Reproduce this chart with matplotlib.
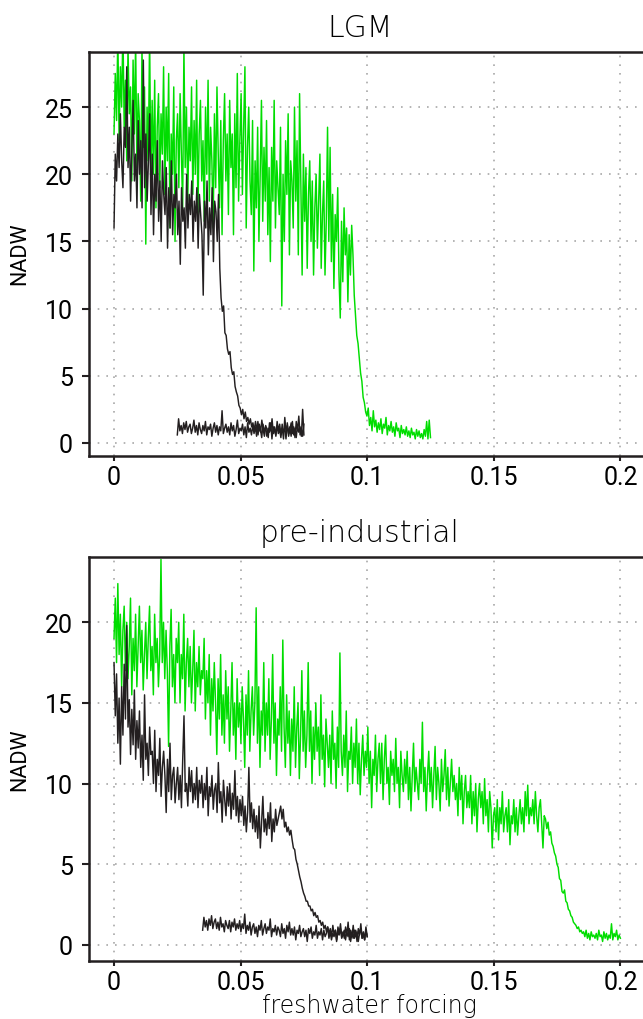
import numpy as np
import matplotlib
matplotlib.use("Agg")
import matplotlib.pyplot as plt

# NADW response to a slowly increasing (and then decreasing) freshwater forcing.
# Each row of a series covers 0.005 of forcing (10 samples per row).

# ---- LGM ----
lgm_green_range = (0.0, 0.125)
lgm_green = [
    [23.0, 27.5, 24.0, 30.5, 22.5, 28.0, 25.0, 31.0, 23.5, 27.0],
    [21.0, 29.5, 24.5, 26.5, 19.5, 28.5, 23.0, 30.0, 20.5, 26.0],
    [24.0, 18.0, 29.5, 22.0, 26.5, 14.8, 25.0, 21.0, 30.5, 19.5],
    [25.5, 20.0, 27.0, 17.5, 23.5, 26.0, 19.0, 24.5, 21.5, 28.0],
    [18.5, 25.0, 21.0, 27.5, 16.0, 23.0, 20.0, 26.5, 15.0, 22.5],
    [24.5, 19.0, 26.0, 21.5, 17.5, 29.5, 20.5, 25.0, 18.0, 23.5],
    [21.0, 26.5, 18.5, 24.0, 20.0, 27.0, 17.0, 23.0, 25.5, 19.5],
    [22.5, 16.5, 25.0, 20.0, 27.0, 18.0, 23.5, 21.0, 16.0, 24.5],
    [19.0, 26.5, 21.5, 17.5, 24.0, 15.5, 22.5, 26.0, 19.5, 23.0],
    [17.0, 25.5, 20.5, 23.0, 15.5, 24.5, 19.0, 27.5, 18.0, 22.5],
    [26.0, 18.5, 23.5, 28.0, 16.0, 22.0, 25.0, 19.5, 17.0, 24.0],
    [12.8, 21.0, 17.5, 23.5, 15.0, 20.0, 25.5, 16.5, 22.0, 18.0],
    [24.0, 15.5, 20.5, 13.5, 22.0, 18.0, 25.5, 16.0, 21.0, 19.0],
    [17.0, 23.5, 10.2, 20.0, 15.0, 22.5, 18.5, 24.5, 14.0, 21.0],
    [19.5, 16.0, 25.0, 18.0, 22.5, 14.0, 26.0, 19.0, 12.5, 21.5],
    [16.5, 20.5, 13.0, 18.5, 21.0, 15.0, 19.5, 12.5, 17.5, 20.0],
    [14.5, 18.0, 21.5, 13.0, 17.0, 19.5, 12.5, 16.5, 23.5, 15.0],
    [22.0, 13.5, 18.5, 11.5, 17.0, 15.0, 19.0, 12.5, 9.3, 16.5],
    [12.0, 17.5, 14.0, 16.0, 10.5, 15.5, 12.5, 16.2, 14.0, 11.0],
    [9.5, 8.0, 7.4, 6.3, 5.2, 4.6, 3.4, 3.0, 2.3, 2.0],
    [2.6, 1.3, 1.9, 0.9, 2.4, 1.2, 1.7, 0.8, 1.5, 1.0],
    [1.8, 0.7, 1.4, 1.1, 1.9, 0.6, 1.3, 0.9, 1.6, 0.8],
    [1.2, 0.5, 1.5, 0.9, 1.1, 0.4, 1.3, 0.7, 1.0, 0.6],
    [1.2, 0.5, 0.9, 0.4, 1.1, 0.6, 0.8, 0.3, 1.0, 0.5],
    [0.9, 0.4, 0.7, 0.3, 1.0, 0.5, 1.6, 0.3, 1.7, 0.4],
]

lgm_black_range = (0.0, 0.075)
lgm_black = [
    [16.0, 21.5, 19.5, 23.0, 20.5, 24.5, 21.0, 19.0, 23.5, 22.0],
    [28.0, 20.5, 23.5, 18.0, 22.0, 25.5, 19.5, 21.5, 17.5, 24.0],
    [20.0, 22.5, 17.5, 28.5, 19.0, 23.0, 18.0, 21.0, 24.5, 17.0],
    [21.5, 15.5, 20.0, 18.0, 22.5, 16.5, 19.5, 15.0, 21.0, 18.5],
    [17.0, 20.5, 14.5, 19.0, 16.0, 21.0, 15.5, 18.5, 17.5, 20.0],
    [15.5, 18.0, 13.3, 19.0, 16.5, 17.5, 14.5, 20.0, 16.0, 18.5],
    [17.0, 19.5, 15.0, 18.0, 16.5, 19.0, 14.5, 18.5, 17.0, 15.5],
    [11.0, 18.0, 16.0, 19.5, 14.0, 17.5, 15.5, 19.0, 13.5, 18.0],
    [17.2, 15.0, 18.5, 13.0, 10.8, 9.8, 10.2, 8.2, 8.0, 7.0],
    [6.6, 6.8, 5.6, 5.1, 5.3, 4.2, 3.8, 3.5, 2.8, 2.6],
    [2.1, 2.5, 1.8, 2.3, 1.6, 1.9, 1.4, 1.8, 1.2, 1.5],
    [0.9, 1.6, 1.1, 0.6, 1.4, 0.8, 1.7, 1.0, 0.5, 1.3],
    [1.0, 0.4, 1.5, 0.9, 1.8, 0.7, 1.2, 0.5, 1.6, 0.9],
    [1.4, 0.6, 1.1, 0.3, 1.9, 0.8, 1.3, 0.5, 1.0, 1.5],
    [0.7, 1.2, 0.4, 1.6, 0.9, 2.0, 0.6, 1.1, 0.5, 1.4],
]

lgm_back_range = (0.025, 0.075)
lgm_back = [
    [0.6, 1.8, 0.9, 1.3, 0.7, 1.5, 1.0, 1.6, 0.8, 1.2],
    [1.4, 0.7, 1.1, 1.7, 0.8, 1.3, 0.6, 1.5, 1.0, 0.7],
    [1.3, 0.9, 1.6, 0.6, 1.2, 1.0, 1.4, 0.5, 1.1, 1.5],
    [0.8, 1.3, 0.6, 1.2, 0.9, 2.4, 0.7, 1.1, 1.4, 0.8],
    [1.2, 0.6, 1.5, 0.9, 1.3, 0.5, 1.0, 1.7, 0.7, 1.1],
    [0.9, 1.4, 0.6, 1.2, 0.4, 1.5, 0.8, 1.1, 0.6, 1.3],
    [0.7, 1.2, 0.5, 1.6, 0.9, 1.0, 0.4, 1.4, 0.8, 1.2],
    [0.5, 1.1, 0.8, 1.5, 0.3, 1.2, 0.9, 0.6, 1.3, 0.7],
    [1.0, 0.4, 1.4, 0.8, 1.1, 0.3, 1.5, 0.7, 1.2, 0.5],
    [1.6, 0.6, 1.1, 0.4, 1.3, 0.8, 1.2, 0.5, 2.5, 0.6],
]

# ---- pre-industrial ----
pi_green_range = (0.0, 0.2)
pi_green = [
    [19.0, 21.5, 17.5, 22.4, 18.0, 20.5, 16.0, 19.5, 21.0, 17.0],
    [20.0, 16.5, 18.5, 21.5, 15.5, 19.0, 17.0, 20.5, 16.0, 18.5],
    [21.0, 17.5, 19.5, 15.8, 18.0, 20.0, 16.5, 19.0, 21.0, 17.0],
    [18.5, 15.5, 20.5, 17.5, 19.0, 16.0, 18.0, 23.9, 17.5, 20.0],
    [16.5, 19.5, 17.0, 12.3, 18.5, 20.8, 16.0, 18.0, 15.0, 19.0],
    [17.5, 20.0, 15.0, 18.0, 16.5, 20.5, 14.5, 17.5, 19.0, 16.0],
    [18.5, 15.0, 17.0, 19.5, 14.5, 17.5, 16.0, 18.5, 15.5, 17.0],
    [16.5, 19.0, 14.0, 17.0, 15.0, 18.0, 13.0, 16.5, 14.5, 17.5],
    [15.0, 11.8, 16.5, 14.0, 18.0, 13.0, 15.5, 12.5, 17.0, 14.0],
    [16.0, 12.0, 14.5, 17.5, 13.0, 15.0, 11.5, 16.5, 13.5, 15.0],
    [12.5, 16.0, 14.0, 11.0, 15.5, 13.0, 17.0, 12.0, 14.5, 16.0],
    [13.0, 15.0, 20.9, 12.5, 16.0, 11.0, 14.5, 13.0, 17.5, 12.0],
    [15.0, 13.0, 16.5, 11.5, 14.0, 18.0, 12.5, 15.0, 10.5, 14.0],
    [13.0, 16.0, 12.0, 18.9, 13.5, 11.0, 15.5, 12.5, 14.5, 10.5],
    [14.0, 12.0, 16.0, 11.0, 13.5, 15.0, 10.3, 13.0, 17.0, 12.0],
    [14.5, 11.0, 13.0, 17.5, 12.0, 14.5, 10.0, 13.5, 11.5, 15.0],
    [12.0, 13.5, 10.5, 15.5, 11.5, 13.0, 9.8, 14.0, 12.5, 11.0],
    [13.0, 10.0, 14.5, 11.5, 12.5, 9.7, 13.5, 11.0, 18.1, 12.0],
    [10.5, 13.0, 11.0, 14.5, 9.5, 12.0, 11.5, 13.5, 10.0, 12.5],
    [11.0, 14.0, 10.0, 12.5, 9.3, 11.5, 13.0, 10.5, 12.0, 11.0],
    [13.5, 10.0, 12.0, 8.5, 11.5, 10.5, 13.0, 9.5, 11.5, 12.5],
    [10.0, 12.5, 9.0, 11.5, 13.0, 10.0, 11.0, 8.7, 12.0, 10.5],
    [11.5, 9.5, 12.8, 10.0, 11.0, 8.5, 12.0, 10.5, 9.5, 11.5],
    [10.0, 12.0, 9.0, 11.0, 8.3, 10.5, 12.5, 9.5, 11.0, 10.0],
    [9.0, 11.5, 10.0, 13.8, 9.5, 11.0, 8.3, 10.5, 12.0, 9.5],
    [11.0, 8.5, 10.5, 12.3, 9.0, 11.0, 10.0, 8.3, 11.5, 9.5],
    [10.5, 12.1, 9.0, 11.0, 8.6, 10.0, 11.5, 9.5, 10.5, 9.0],
    [10.0, 8.0, 11.0, 9.0, 10.5, 7.5, 9.5, 10.5, 8.5, 9.5],
    [8.5, 10.5, 7.5, 9.5, 8.0, 10.0, 7.0, 9.0, 10.0, 8.5],
    [9.5, 7.5, 10.3, 8.0, 9.0, 7.0, 9.5, 8.5, 6.0, 8.0],
    [8.5, 7.0, 9.0, 6.5, 8.5, 7.5, 9.5, 7.0, 8.0, 8.5],
    [7.0, 9.0, 6.2, 8.0, 7.5, 9.0, 7.0, 8.5, 6.8, 8.0],
    [9.0, 7.5, 8.5, 7.0, 9.5, 8.0, 9.9, 7.5, 8.5, 8.0],
    [9.0, 7.5, 9.5, 8.0, 7.0, 8.5, 9.0, 7.5, 6.0, 8.0],
    [7.8, 7.2, 7.6, 6.8, 7.0, 6.3, 6.1, 5.7, 5.5, 5.0],
    [4.8, 4.1, 4.0, 3.3, 3.2, 3.4, 2.7, 2.6, 2.2, 2.1],
    [1.8, 1.7, 1.4, 1.3, 1.2, 1.0, 1.1, 0.8, 0.9, 0.7],
    [0.8, 0.5, 0.9, 0.4, 0.7, 0.3, 0.8, 0.5, 0.6, 0.4],
    [0.7, 0.3, 0.9, 0.5, 0.6, 0.2, 0.8, 0.4, 0.7, 0.3],
    [0.6, 0.4, 1.3, 0.3, 0.7, 0.5, 0.9, 0.3, 0.6, 0.4],
]

pi_black_range = (0.0, 0.1)
pi_black = [
    [17.5, 14.2, 16.8, 12.5, 15.3, 11.2, 16.0, 13.0, 17.4, 14.0],
    [19.8, 13.5, 15.2, 11.8, 14.6, 12.4, 15.8, 11.5, 13.9, 12.2],
    [14.5, 11.0, 13.0, 10.2, 15.5, 11.5, 12.5, 10.5, 13.5, 11.8],
    [12.0, 10.0, 13.3, 9.5, 11.5, 10.5, 12.8, 9.2, 11.0, 12.0],
    [10.5, 8.2, 11.5, 9.5, 12.5, 9.0, 10.5, 11.0, 8.8, 10.0],
    [11.0, 9.0, 10.5, 8.5, 11.5, 14.2, 9.5, 10.0, 8.6, 11.0],
    [9.5, 10.8, 8.8, 10.0, 9.0, 11.0, 8.5, 10.2, 9.4, 10.5],
    [8.5, 10.0, 9.0, 11.0, 8.0, 9.8, 9.2, 10.5, 8.4, 9.6],
    [10.0, 8.2, 11.3, 8.8, 9.5, 7.6, 10.2, 9.0, 8.0, 9.8],
    [8.6, 10.0, 7.8, 9.4, 8.4, 10.8, 8.0, 9.2, 7.6, 9.0],
    [8.0, 9.2, 7.4, 8.6, 7.0, 8.2, 11.0, 7.6, 8.8, 7.2],
    [8.4, 7.0, 8.0, 6.6, 8.6, 6.0, 7.6, 9.2, 7.0, 7.8],
    [6.8, 8.2, 7.2, 8.8, 6.4, 7.8, 7.0, 8.4, 7.4, 7.8],
    [8.2, 8.6, 7.8, 8.4, 7.3, 7.6, 7.0, 7.3, 6.8, 7.1],
    [6.5, 6.0, 5.9, 5.3, 5.0, 4.6, 4.2, 3.9, 3.5, 3.2],
    [3.0, 2.7, 2.7, 2.4, 2.4, 2.1, 2.2, 1.8, 2.0, 1.7],
    [1.8, 1.4, 1.5, 1.2, 1.4, 1.0, 1.2, 0.8, 1.1, 0.7],
    [1.0, 0.5, 1.2, 0.6, 0.9, 0.3, 1.1, 0.7, 1.3, 0.5],
    [0.8, 0.4, 1.1, 0.6, 1.4, 0.3, 0.9, 0.5, 1.2, 0.4],
    [0.9, 0.2, 1.0, 0.6, 1.3, 0.4, 0.8, 0.3, 1.1, 0.5],
]

pi_back_range = (0.035, 0.1)
pi_back = [
    [0.9, 1.7, 1.1, 1.5, 0.9, 1.6, 1.2, 1.8, 1.0, 1.4],
    [1.6, 1.0, 1.4, 0.9, 1.7, 1.1, 1.3, 0.8, 1.5, 1.2],
    [1.0, 1.5, 0.8, 1.4, 1.1, 1.6, 0.9, 1.3, 1.0, 1.5],
    [0.8, 1.3, 1.0, 1.9, 0.7, 1.2, 0.9, 1.4, 0.6, 1.1],
    [1.3, 0.7, 1.1, 0.5, 1.2, 0.9, 1.5, 0.6, 1.0, 1.3],
    [0.7, 1.1, 0.9, 1.6, 0.5, 1.0, 0.8, 1.2, 0.6, 1.1],
    [0.9, 0.5, 1.3, 0.7, 1.0, 0.4, 1.2, 0.8, 1.4, 0.6],
    [1.0, 0.6, 1.1, 0.3, 0.9, 0.7, 1.2, 0.5, 0.8, 1.0],
    [0.5, 0.9, 0.2, 1.0, 0.7, 1.1, 0.4, 0.8, 0.6, 1.2],
    [0.4, 0.8, 0.6, 1.0, 0.3, 0.9, 0.5, 0.7, 1.1, 0.4],
    [0.8, 0.3, 0.7, 0.5, 0.9, 0.2, 0.8, 0.6, 1.0, 0.4],
    [0.6, 0.9, 0.3, 0.8, 0.5, 1.0, 0.2, 0.7, 0.4, 0.9],
    [0.5, 0.8, 0.2, 0.7, 1.0, 0.4, 0.6, 0.3, 0.9, 0.5],
]

x_ticks = [0, 0.05, 0.1, 0.15, 0.2]
x_ticklabels = ["0", "0.05", "0.1", "0.15", "0.2"]
lgm_yticks = [0, 5, 10, 15, 20, 25]
pi_yticks = [0, 5, 10, 15, 20]

GREEN = "#00dd00"
BLACK = "#231f20"
FRAME = "#231f20"
TEXT = "#000000"
TICK_FONT = ["Roboto", "Liberation Sans", "DejaVu Sans"]


def series(rows, xr):
    y = np.array(rows, dtype=float).ravel()
    x = np.linspace(xr[0], xr[1], len(y))
    return x, y


def style_axes(ax, yticks, ylim):
    ax.set_xlim(-0.01, 0.21)
    ax.set_ylim(*ylim)
    ax.set_xticks(x_ticks)
    ax.set_xticklabels(x_ticklabels)
    ax.set_yticks(yticks)
    ax.set_yticklabels([str(t) for t in yticks])
    ax.set_axisbelow(True)
    ax.grid(True, color="#a8a8a8", linestyle=(0, (1, 4.2)), linewidth=1.2)
    for sp in ax.spines.values():
        sp.set_linewidth(1.8)
        sp.set_color(FRAME)
    ax.tick_params(axis="x", direction="out", length=3.8, width=1.5,
                   color=FRAME, pad=2.5, labelsize=18)
    ax.tick_params(axis="y", direction="out", length=5, width=1.5,
                   color=FRAME, pad=6.5, labelsize=18)
    for lab in ax.get_xticklabels() + ax.get_yticklabels():
        lab.set_family(TICK_FONT)
        lab.set_color(TEXT)


W, H = 643, 1020
fig = plt.figure(figsize=(W / 100, H / 100), dpi=100)

ax_left = 88.7 / W
ax_width = 557 / W
ax1 = fig.add_axes([ax_left, (H - 457) / H, ax_width, 404 / H])
ax2 = fig.add_axes([ax_left, (H - 962) / H, ax_width, 404 / H])

lw = 1.05
for rows, xr, col in [(lgm_green, lgm_green_range, GREEN),
                      (lgm_black, lgm_black_range, BLACK),
                      (lgm_back, lgm_back_range, BLACK)]:
    x, y = series(rows, xr)
    ax1.plot(x, y, color=col, linewidth=lw)

for rows, xr, col in [(pi_green, pi_green_range, GREEN),
                      (pi_black, pi_black_range, BLACK),
                      (pi_back, pi_back_range, BLACK)]:
    x, y = series(rows, xr)
    ax2.plot(x, y, color=col, linewidth=lw)

style_axes(ax1, lgm_yticks, (-0.97, 29.1))
style_axes(ax2, pi_yticks, (-1.01, 24.05))

title_kw = dict(ha="center", va="baseline", fontsize=21.5, fontweight="light",
                family=["DejaVu Sans"], color=TEXT)
fig.text(360 / W, 1 - 37 / H, "LGM", **title_kw)
fig.text(360 / W, 1 - 542 / H, "pre-industrial", **title_kw)

lab_kw = dict(family=TICK_FONT, color=TEXT)
fig.text(19.5 / W, 1 - 254 / H, "NADW", rotation=90, ha="center",
         va="center", fontsize=15.5, **lab_kw)
fig.text(19.5 / W, 1 - 760 / H, "NADW", rotation=90, ha="center",
         va="center", fontsize=15.5, **lab_kw)
fig.text(369 / W, 1 - 1013 / H, "freshwater forcing", ha="center",
         va="baseline", fontsize=17, fontweight="light",
         family=["DejaVu Sans"], color=TEXT)

fig.savefig("out.png", dpi=100)
